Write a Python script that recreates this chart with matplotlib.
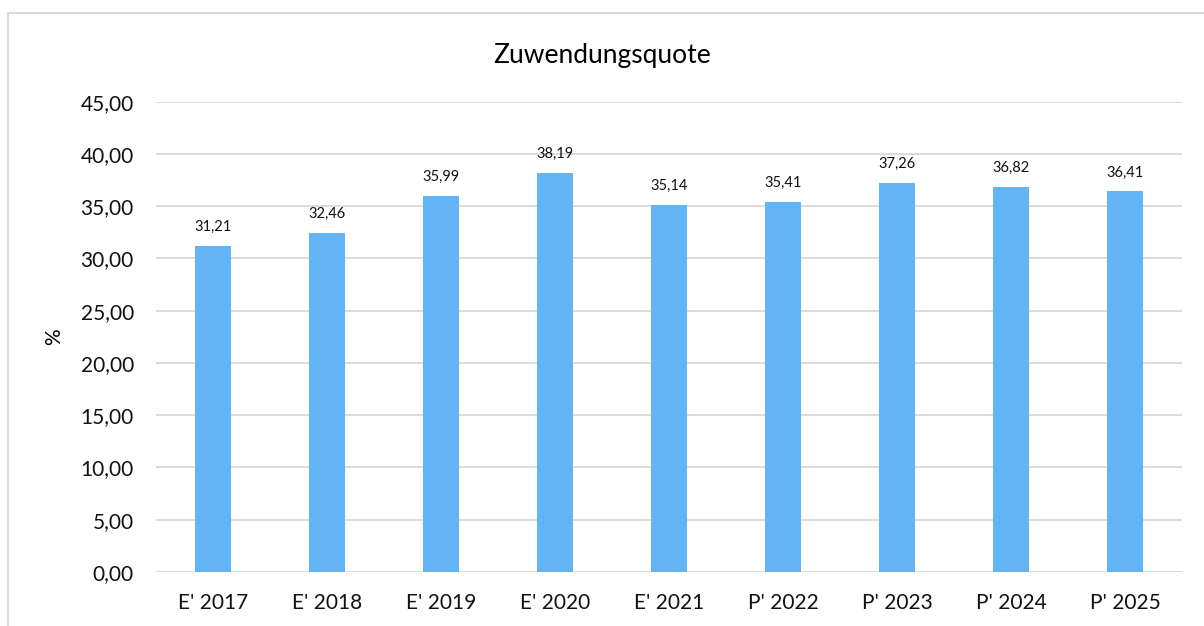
import matplotlib.pyplot as plt
from matplotlib.patches import Rectangle

# data
categories = ["E' 2017", "E' 2018", "E' 2019", "E' 2020", "E' 2021",
              "P' 2022", "P' 2023", "P' 2024", "P' 2025"]
values = [31.21, 32.46, 35.99, 38.19, 35.14, 35.41, 37.26, 36.82, 36.41]
yticks = [0, 5, 10, 15, 20, 25, 30, 35, 40, 45]

plt.rcParams['font.family'] = ['Lato', 'DejaVu Sans']

W, H = 1204, 626
fig = plt.figure(figsize=(W / 100, H / 100), dpi=100)
ax = fig.add_axes([156 / W, 1 - 572 / H, (1182 - 156) / W, (572 - 101.7) / H])

x = range(len(categories))
ax.bar(x, values, width=0.31, color='#63B4F5', zorder=2)

for xi, v in zip(x, values):
    ax.text(xi, v + 1.15, f"{v:.2f}".replace('.', ','), ha='center', va='bottom',
            fontsize=10.5, color='#111111')

ax.set_xlim(-0.5, len(categories) - 0.5)
ax.set_ylim(0, 45)
ax.set_yticks(yticks)
ax.set_yticklabels([f"{t:.2f}".replace('.', ',') for t in yticks], fontsize=15)
ax.set_xticks(list(x))
ax.set_xticklabels(categories, fontsize=15)
ax.tick_params(axis='both', length=0, colors='#111111')
ax.tick_params(axis='y', pad=16)
ax.tick_params(axis='x', pad=15)
ax.yaxis.grid(True, color='#D9D9D9', linewidth=1.3, zorder=0)
for s in ax.spines.values():
    s.set_visible(False)

ax.set_ylabel('%', fontsize=15)
ax.yaxis.set_label_coords((64 - 156) / (1182 - 156), 0.5)
fig.text(0.5, 1 - 55 / H, 'Zuwendungsquote', ha='center', va='center', fontsize=19)

# chart area border
fig.patches.append(Rectangle((8 / W, -0.1), 1.2, 1 - 13 / H + 0.1,
                             transform=fig.transFigure, fill=False,
                             edgecolor='#D9D9D9', linewidth=1.5))

fig.savefig('out.png', dpi=100)
